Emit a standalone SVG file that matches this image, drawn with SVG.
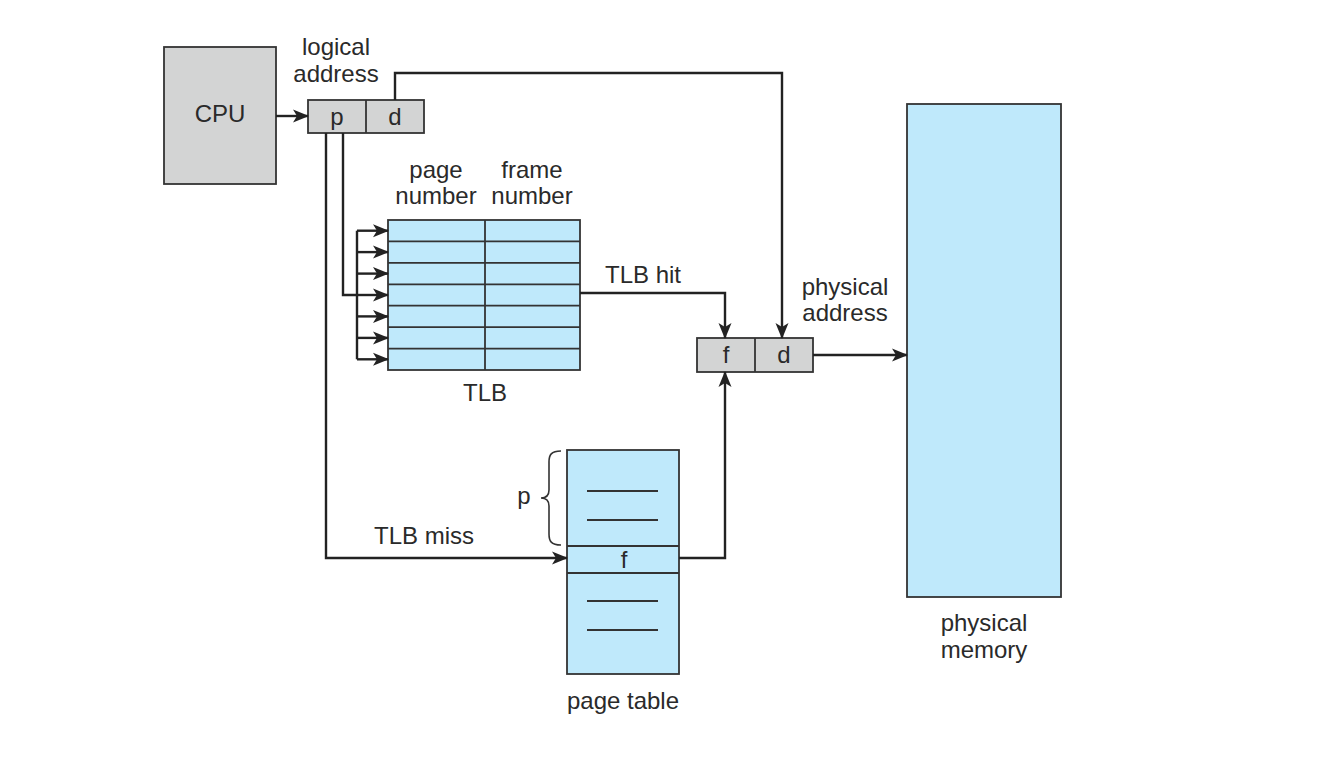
<svg xmlns="http://www.w3.org/2000/svg" width="1320" height="758" viewBox="0 0 1320 758">
<style>
.t{font-family:"Liberation Sans",Arial,sans-serif;font-size:24px;fill:#2a2a2a;text-anchor:middle}
.g{fill:#d3d4d4;stroke:#333;stroke-width:1.8}
.b{fill:#bfe9fb;stroke:#333;stroke-width:1.8}
.l{fill:none;stroke:#222;stroke-width:2.4}
.c{fill:none;stroke:#222;stroke-width:2.4;marker-end:url(#ah)}
.thin{stroke:#333;stroke-width:1.8}
</style>
<defs>
<marker id="ah" markerWidth="16" markerHeight="14" refX="15" refY="7" orient="auto" markerUnits="userSpaceOnUse">
<path d="M0,0.5 L16,7 L0,13.5 L4,7 Z" fill="#222"/>
</marker>
</defs>
<rect width="1320" height="758" fill="#fff"/>
<g id="cpu">
<rect class="g" x="164" y="47" width="112" height="137"/>
<text class="t" x="220" y="122">CPU</text>
</g>
<g id="logical-address">
<text class="t" x="336" y="55">logical</text>
<text class="t" x="336" y="82">address</text>
<rect class="g" x="308" y="100" width="116" height="33"/>
<line class="thin" x1="366" y1="100" x2="366" y2="133"/>
<text class="t" x="337" y="125">p</text>
<text class="t" x="395" y="125">d</text>
</g>
<g id="tlb">
<text class="t" x="436" y="178">page</text>
<text class="t" x="436" y="204">number</text>
<text class="t" x="532" y="178">frame</text>
<text class="t" x="532" y="204">number</text>
<rect class="b" x="388" y="220" width="192" height="150"/>
<g class="thin">
<line x1="485" y1="220" x2="485" y2="370"/>
<line x1="388" y1="241.4" x2="580" y2="241.4"/>
<line x1="388" y1="262.9" x2="580" y2="262.9"/>
<line x1="388" y1="284.3" x2="580" y2="284.3"/>
<line x1="388" y1="305.7" x2="580" y2="305.7"/>
<line x1="388" y1="327.1" x2="580" y2="327.1"/>
<line x1="388" y1="348.6" x2="580" y2="348.6"/>
</g>
<text class="t" x="485" y="401">TLB</text>
</g>
<g id="physical-address">
<text class="t" x="845" y="295">physical</text>
<text class="t" x="845" y="321">address</text>
<rect class="g" x="697" y="338" width="116" height="34"/>
<line class="thin" x1="755" y1="338" x2="755" y2="372"/>
<text class="t" x="726" y="363">f</text>
<text class="t" x="784" y="363">d</text>
</g>
<g id="page-table">
<rect class="b" x="567" y="450" width="112" height="224"/>
<line class="thin" x1="567" y1="546" x2="679" y2="546"/>
<line class="thin" x1="567" y1="573" x2="679" y2="573"/>
<g class="thin">
<line x1="587" y1="491" x2="658" y2="491"/>
<line x1="587" y1="520" x2="658" y2="520"/>
<line x1="587" y1="601" x2="658" y2="601"/>
<line x1="587" y1="630" x2="658" y2="630"/>
</g>
<text class="t" x="624" y="568">f</text>
<path d="M561,451 C551,451 549,455 549,462 L549,490 C549,495 546,498 541,498 C546,498 549,501 549,506 L549,534 C549,541 551,545 561,545" fill="none" stroke="#333" stroke-width="1.6"/>
<text class="t" x="524" y="504">p</text>
<text class="t" x="623" y="709">page table</text>
</g>
<g id="physical-memory">
<rect class="b" x="907" y="104" width="154" height="493"/>
<text class="t" x="984" y="631">physical</text>
<text class="t" x="984" y="658">memory</text>
</g>
<g id="connectors">
<line class="c" x1="276" y1="116" x2="308" y2="116"/>
<polyline class="c" points="395,100 395,73 782,73 782,338"/>
<polyline class="l" points="343,133 343,295 357,295"/>
<line class="l" x1="357" y1="230.7" x2="357" y2="359.3"/>
<line class="c" x1="357" y1="230.7" x2="388" y2="230.7"/>
<line class="c" x1="357" y1="252.1" x2="388" y2="252.1"/>
<line class="c" x1="357" y1="273.6" x2="388" y2="273.6"/>
<line class="c" x1="357" y1="295" x2="388" y2="295"/>
<line class="c" x1="357" y1="316.4" x2="388" y2="316.4"/>
<line class="c" x1="357" y1="337.9" x2="388" y2="337.9"/>
<line class="c" x1="357" y1="359.3" x2="388" y2="359.3"/>
<polyline class="c" points="326,133 326,558 567,558"/>
<polyline class="c" points="580,293 725,293 725,338"/>
<polyline class="c" points="679,558 725,558 725,372"/>
<line class="c" x1="813" y1="355" x2="907" y2="355"/>
<text class="t" x="643" y="283">TLB hit</text>
<text class="t" x="424" y="544">TLB miss</text>
</g>
</svg>
